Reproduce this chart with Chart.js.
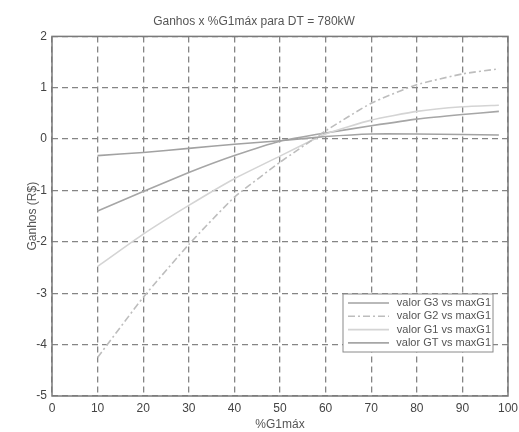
<!DOCTYPE html>
<html>
<head>
<meta charset="utf-8">
<script src="https://cdn.jsdelivr.net/npm/chart.js@4.4.1/dist/chart.umd.min.js"></script>
<style>
  html, body { margin: 0; padding: 0; background: #fff; }
  #wrap { width: 519px; height: 432px; }
</style>
</head>
<body>
<div id="wrap"><canvas id="chart"></canvas></div>
<script>
// Ganhos (R$) vs %G1max.
const xValues = [10, 20, 30, 40, 50, 60, 70, 80, 90, 98];
const ganhoG3 = [-0.32, -0.26, -0.18, -0.10, -0.03, 0.05, 0.10, 0.10, 0.09, 0.08];
const ganhoG2 = [-4.25, -3.08, -2.05, -1.13, -0.45, 0.16, 0.70, 1.06, 1.27, 1.37];
const ganhoG1 = [-2.48, -1.85, -1.29, -0.77, -0.33, 0.10, 0.37, 0.54, 0.63, 0.66];
const ganhoGT = [-1.40, -1.02, -0.65, -0.32, -0.04, 0.12, 0.26, 0.39, 0.48, 0.54];
const seriesNames = ['valor G3 vs maxG1', 'valor G2 vs maxG1', 'valor G1 vs maxG1', 'valor GT vs maxG1'];

const points = ys => ys.map((y, i) => ({ x: xValues[i], y }));
const FONT = 'Liberation Sans, Arial, sans-serif';

// MATLAB-style full box round the axes
const frame = {
  id: 'frame',
  afterDatasetsDraw(chart) {
    const { ctx, chartArea: a } = chart;
    ctx.save();
    ctx.strokeStyle = '#7a7a7a';
    ctx.lineWidth = 1.5;
    ctx.strokeRect(a.left, a.top, a.right - a.left, a.bottom - a.top);
    ctx.restore();
  }
};

// legend box inside the plot, lower right
const boxLegend = {
  id: 'boxLegend',
  afterDraw(chart) {
    const { ctx, chartArea: a } = chart;
    const x0 = a.right - 165, y0 = a.bottom - 102, w = 150, h = 58;
    ctx.save();
    ctx.fillStyle = '#fff';
    ctx.fillRect(x0, y0, w, h);
    ctx.strokeStyle = '#8a8a8a';
    ctx.lineWidth = 1;
    ctx.strokeRect(x0, y0, w, h);
    ctx.font = '11px ' + FONT;
    ctx.textAlign = 'right';
    ctx.textBaseline = 'middle';
    chart.data.datasets.forEach((ds, i) => {
      const y = y0 + 9 + i * 13.3;
      ctx.strokeStyle = ds.borderColor;
      ctx.lineWidth = ds.borderWidth;
      ctx.setLineDash(ds.borderDash || []);
      ctx.beginPath();
      ctx.moveTo(x0 + 5, y);
      ctx.lineTo(x0 + 46, y);
      ctx.stroke();
      ctx.setLineDash([]);
      ctx.fillStyle = '#555';
      ctx.fillText(ds.label, x0 + w - 2, y);
    });
    ctx.restore();
  }
};

const gridOpts = { color: '#858585', lineWidth: 1.3, drawTicks: false };
const borderOpts = { display: false, dash: [6, 4] };

new Chart(document.getElementById('chart'), {
  type: 'line',
  data: {
    datasets: [
      { label: seriesNames[0], data: points(ganhoG3), borderColor: '#a2a2a2', borderWidth: 1.6 },
      { label: seriesNames[1], data: points(ganhoG2), borderColor: '#bdbdbd', borderWidth: 1.6, borderDash: [7, 3, 2, 3] },
      { label: seriesNames[2], data: points(ganhoG1), borderColor: '#d4d4d4', borderWidth: 1.6 },
      { label: seriesNames[3], data: points(ganhoGT), borderColor: '#a6a6a6', borderWidth: 1.6 }
    ]
  },
  options: {
    responsive: true,
    maintainAspectRatio: false,
    animation: false,
    elements: { point: { radius: 0 }, line: { tension: 0.15, fill: false } },
    layout: { padding: { left: 0, right: 11, top: 0, bottom: 0 } },
    scales: {
      x: {
        type: 'linear', min: 0, max: 100,
        grid: gridOpts, border: borderOpts,
        ticks: { stepSize: 10, padding: 5, color: '#444', font: { family: FONT, size: 12 } },
        title: { display: true, text: '%G1máx', color: '#555', padding: { top: 0, bottom: 0 }, font: { family: FONT, size: 12 } },
        afterFit: s => { s.height = 36; s.paddingLeft = 0; s.paddingRight = 0; }
      },
      y: {
        min: -5, max: 2,
        grid: gridOpts, border: borderOpts,
        ticks: { stepSize: 1, padding: 5, color: '#444', font: { family: FONT, size: 12 } },
        title: { display: true, text: 'Ganhos (R$)', color: '#555', padding: { top: 25, bottom: 0 }, font: { family: FONT, size: 12 } },
        afterFit: s => { s.width = 52; }
      }
    },
    plugins: {
      legend: { display: false },
      tooltip: { enabled: false },
      title: {
        display: true,
        text: 'Ganhos x %G1máx para DT = 780kW',
        color: '#555',
        font: { family: FONT, size: 12, weight: 'normal' },
        padding: { top: 14, bottom: 8 }
      }
    }
  },
  plugins: [frame, boxLegend]
});
</script>
</body>
</html>
